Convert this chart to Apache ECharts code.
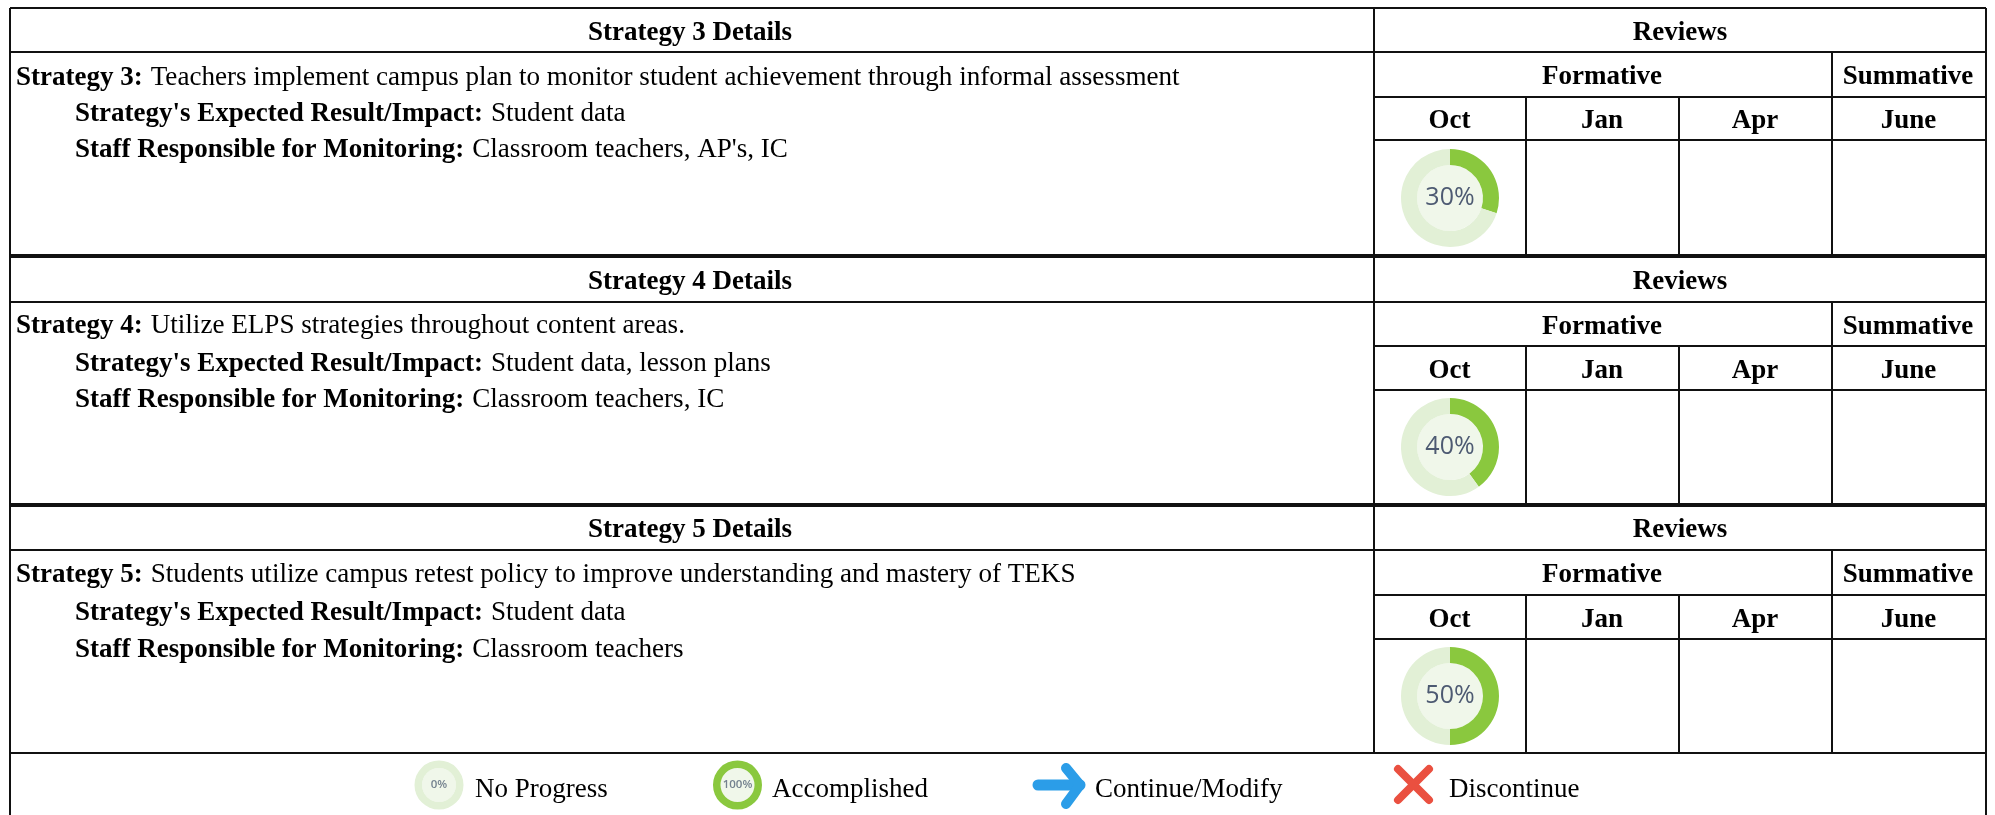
<!DOCTYPE html>
<html><head><meta charset="utf-8">
<style>html,body{margin:0;padding:0;background:#fff}#c{width:1995px;height:815px}</style>
<script src="https://cdn.jsdelivr.net/npm/echarts@6/dist/echarts.min.js"></script>
</head><body><div id="c"></div>
<script>
const strategyNumbers = [3, 4, 5];
const strategyTexts = [
  'Teachers implement campus plan to monitor student achievement through informal assessment',
  'Utilize ELPS strategies throughout content areas.',
  'Students utilize campus retest policy to improve understanding and mastery of TEKS'
];
const expectedResults = ['Student data', 'Student data, lesson plans', 'Student data'];
const staffResponsible = ["Classroom teachers, AP's, IC", 'Classroom teachers, IC', 'Classroom teachers'];
const octProgress = [30, 40, 50];
const months = ['Oct', 'Jan', 'Apr', 'June'];
const legendLabels = ['No Progress', 'Accomplished', 'Continue/Modify', 'Discontinue'];
const legendProgress = [0, 100];

const FONT = '"Liberation Serif","Times New Roman",serif';
const FS = 27;
const LINE = '#111111';
const GREEN = '#8ac83e', PALE = '#e2f0d6', CORE = '#f0f7ea';
const sectionY = [[8, 52, 97, 140, 256], [256, 302, 346, 390, 505], [505, 550, 595, 639, 753]];
const leftLineY = [[78, 114, 150], [326, 364, 400], [575, 613, 650]];
const L = 10, V = 1374, C1 = 1526, C2 = 1679, C3 = 1832, R = 1986, B = 815;
const g = [];
function ln(x1, y1, x2, y2, w) {
  g.push({type: 'line', silent: true, shape: {x1, y1, x2, y2}, style: {stroke: LINE, lineWidth: w || 2}});
}
function txt(text, x, y, align, bold, rich) {
  g.push({type: 'text', silent: true, x, y, style: Object.assign({
    text, x: 0, y: 0, align: align || 'center', verticalAlign: 'middle', fill: '#000',
    font: (bold ? 'bold ' : '') + FS + 'px ' + FONT}, rich ? {rich} : {})});
}
const rich = {
  b: {fontFamily: FONT, fontWeight: 'bold', fontSize: FS, fill: '#000'},
  r: {fontFamily: FONT, fontSize: FS + 0.1, fill: '#000'},
  s: {fontFamily: FONT, fontSize: 20, width: 8, fill: '#000'}
};
strategyNumbers.forEach((n, i) => {
  const [a, b, c, d, e] = sectionY[i];
  ln(L, a, R, a, i ? 4 : 2);
  ln(L, b, R, b);
  ln(V, c, R, c);
  ln(V, d, R, d);
  ln(L, a, L, e); ln(V, a, V, e); ln(R, a, R, e);
  ln(C3, b, C3, e); ln(C1, c, C1, e); ln(C2, c, C2, e);
  txt('Strategy ' + n + ' Details', (L + V) / 2 - 2, (a + b) / 2 + 3, 'center', true);
  txt('Reviews', (V + R) / 2, (a + b) / 2 + 3, 'center', true);
  txt('Formative', (V + C3) / 2 - 1, (b + c) / 2 + 3, 'center', true);
  txt('Summative', (C3 + R) / 2 - 1, (b + c) / 2 + 3, 'center', true);
  [V, C1, C2, C3].forEach((x, k) => {
    const nx = [C1, C2, C3, R][k];
    txt(months[k], (x + nx) / 2 - 0.5, (c + d) / 2 + 3, 'center', true);
  });
  const y = leftLineY[i];
  txt('{b|Strategy ' + n + ':}{s| }{r|' + strategyTexts[i] + '}', 16, y[0], 'left', false, rich);
  txt("{b|Strategy's Expected Result/Impact:}{s| }{r|" + expectedResults[i] + '}', 75, y[1], 'left', false, rich);
  txt('{b|Staff Responsible for Monitoring:}{s| }{r|' + staffResponsible[i] + '}', 75, y[2], 'left', false, rich);
});
ln(L, 753, R, 753); ln(L, 753, L, B); ln(R, 753, R, B);
[475, 772, 1095, 1449].forEach((x, i) => txt(legendLabels[i], x, 790, 'left', false));

// legend glyphs
g.push({type: 'polyline', silent: true, shape: {points: [[1038, 785], [1080, 785]]},
  style: {stroke: '#2b9de8', lineWidth: 11, lineCap: 'round', fill: 'none'}});
g.push({type: 'polyline', silent: true, shape: {points: [[1066, 768], [1080, 785], [1066, 804]]},
  style: {stroke: '#2b9de8', lineWidth: 10, lineCap: 'round', lineJoin: 'round', fill: 'none'}});
g.push({type: 'polyline', silent: true, shape: {points: [[1398, 769], [1429, 800]]},
  style: {stroke: '#ea5040', lineWidth: 8, lineCap: 'round', fill: 'none'}});
g.push({type: 'polyline', silent: true, shape: {points: [[1429, 769], [1398, 800]]},
  style: {stroke: '#ea5040', lineWidth: 8, lineCap: 'round', fill: 'none'}});

function donut(value, cx, cy, ro, ri, fontSize, color, weight) {
  return [{
    type: 'pie', silent: true, animation: false, center: [cx, cy], radius: [0, ri], z: 2,
    label: {show: false}, labelLine: {show: false}, itemStyle: {color: CORE},
    data: [{value: 1}]
  }, {
    type: 'pie', silent: true, animation: false, center: [cx, cy], radius: [ri, ro], z: 3,
    startAngle: 90, clockwise: true, minAngle: 0, avoidLabelOverlap: false,
    label: {show: false}, labelLine: {show: false},
    data: [
      {value: value, itemStyle: {color: GREEN},
       label: {show: true, position: 'center', formatter: value + '%', fontFamily: '"Open Sans","Noto Sans",sans-serif',
               fontSize, color, fontWeight: weight}},
      {value: 100 - value, itemStyle: {color: PALE}}
    ]
  }];
}
const series = [];
const rowCentres = [198, 447, 696];
octProgress.forEach((v, i) => series.push(...donut(v, 1450, rowCentres[i], 49, 33, 25, '#4d5a72', 'normal')));
series.push(...donut(legendProgress[0], 439, 785, 24.5, 17, 11.5, '#74828f', 600));
series.push(...donut(legendProgress[1], 737.5, 785, 24.5, 17, 11.5, '#74828f', 600));

const chart = echarts.init(document.getElementById('c'), null, {renderer: 'canvas'});
chart.setOption({backgroundColor: '#fff', animation: false, graphic: {elements: g}, series});
</script></body></html>
